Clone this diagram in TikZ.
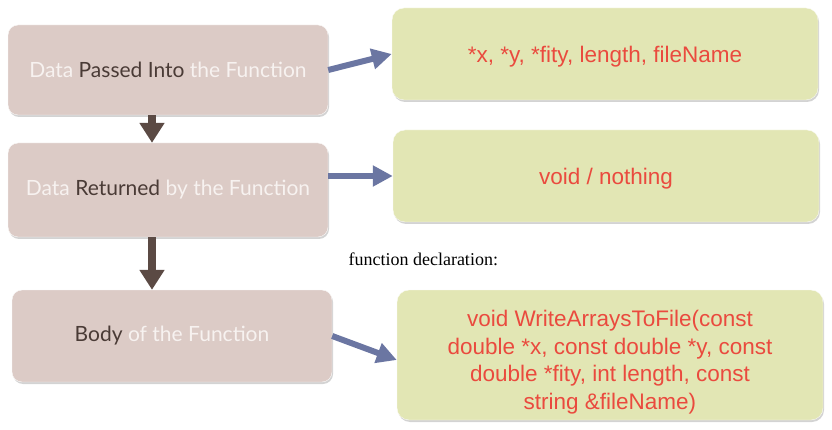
\documentclass[tikz,border=0pt]{standalone}
\usepackage{fontspec}
\setmainfont{Liberation Serif}
\newfontfamily\boxfont{Lato}
\newfontfamily\codefont{Liberation Sans}
\usepackage{tikz}
\usetikzlibrary{arrows.meta,shadows}
\definecolor{stepfill}{HTML}{DCCBC6}
\definecolor{stepdark}{HTML}{4A3B36}
\definecolor{steplight}{HTML}{F7F2F0}
\definecolor{infofill}{HTML}{E2E6B4}
\definecolor{infotext}{HTML}{EA4A3E}
\definecolor{linkblue}{HTML}{6B76A2}
\definecolor{downbrown}{HTML}{5B4A44}
\tikzstyle{stepbox} = [rectangle, rounded corners=10pt, minimum width=320pt, draw=white!90!stepfill, fill=stepfill, drop shadow={opacity=0.35, shadow xshift=1pt, shadow yshift=-2pt}, font=\boxfont\fontsize{21}{25}\selectfont, text=steplight]
\tikzstyle{infobox} = [rectangle, rounded corners=12pt, minimum width=426pt, draw=white!85!infofill, fill=infofill, drop shadow={opacity=0.35, shadow xshift=1pt, shadow yshift=-2pt}, font=\codefont\fontsize{22.5}{27.5}\selectfont, text=infotext, align=center]
\tikzstyle{link} = [linkblue, line width=6pt, -{Triangle[length=20pt,width=20pt]}]
\tikzstyle{down} = [downbrown, line width=8pt, -{Triangle[length=20pt,width=24pt]}]
\newcommand{\dk}[1]{\textcolor{stepdark}{#1}}

\begin{document}
\begin{tikzpicture}[x=1pt,y=-1pt]
\useasboundingbox (0,0) rectangle (832,430);
\node (pass) [stepbox, minimum height=90pt] at (168,70) {Data \dk{Passed Into} the Function};
\node (ret) [stepbox, minimum height=94pt] at (168,190) {Data \dk{Returned} by the Function};
\node (body) [stepbox, minimum height=92pt] at (172,336) {\dk{Body} of the Function};

\node (args) [infobox, minimum height=92pt, text depth=-6pt] at (605,54) {*x, *y, *fity, length, fileName};
\node (void) [infobox, minimum height=92pt, text depth=-3pt] at (606,176) {void / nothing};
\node (decl) [infobox, minimum height=130pt] at (610,355) {\rule{0pt}{31pt}void WriteArraysToFile(const\\double *x, const double *y, const\\double *fity, int length, const\\string \&fileName)};
\node (decllabel) [anchor=west, font=\fontsize{18}{20}\selectfont] at (345,259) {function declaration:};

\draw [down] ([xshift=-16pt]pass.south) -- ([xshift=-16pt]ret.north);
\draw [down] ([xshift=-16pt]ret.south) -- ([xshift=-20pt]body.north);
\draw [link] (pass.east) -- (args.west);
\draw [link] (ret.east |- void.west) -- (void.west);
\draw [link] (body.east) -- ([yshift=-5pt]decl.west);
\end{tikzpicture}
\end{document}
